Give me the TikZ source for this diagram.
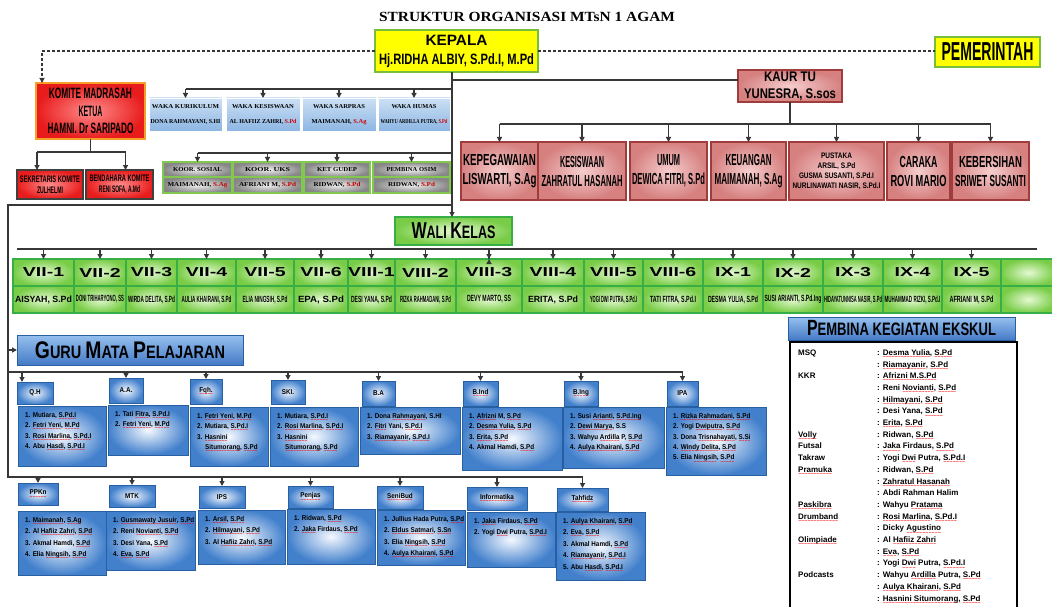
\documentclass[tikz,border=0pt]{standalone}
\usepackage{fontspec}
\setmainfont{Liberation Sans}
\newfontfamily\cndf[FakeStretch=0.6]{Liberation Sans}
\newfontfamily\twf[FakeStretch=0.9]{Liberation Sans}
\newfontfamily\widef[FakeStretch=1.5]{Liberation Sans}
\newfontfamily\serf{Liberation Serif}
\usetikzlibrary{arrows.meta}

\definecolor{yel}{RGB}{255,255,0}
\definecolor{ygreen}{RGB}{120,190,60}
\definecolor{kred}{RGB}{232,28,28}
\definecolor{kredl}{RGB}{255,140,140}
\definecolor{korange}{RGB}{245,160,40}
\definecolor{wblue}{RGB}{140,182,228}
\definecolor{wbluel}{RGB}{205,224,244}
\definecolor{gdark}{RGB}{135,135,135}
\definecolor{glight}{RGB}{240,240,240}
\definecolor{gborder}{RGB}{130,200,80}
\definecolor{tuin}{RGB}{246,205,205}
\definecolor{tuout}{RGB}{214,128,128}
\definecolor{tuborder}{RGB}{160,60,60}
\definecolor{grin}{RGB}{228,249,210}
\definecolor{grout}{RGB}{120,204,70}
\definecolor{grborder}{RGB}{55,175,70}
\definecolor{bin}{RGB}{245,249,255}
\definecolor{bout}{RGB}{66,128,204}
\definecolor{bborder}{RGB}{40,95,160}
\definecolor{hblue1}{RGB}{150,192,238}
\definecolor{hblue2}{RGB}{68,122,198}
\definecolor{lncol}{RGB}{55,55,55}

\newsavebox\sqbox
\newcommand\fw[2]{\resizebox{#1}{\height}{#2}}
\newcommand\sq[1]{\leavevmode\sbox\sqbox{#1}\rlap{\lower3.2pt\hbox to \wd\sqbox{\color{red}\xleaders\hbox{\fontsize{5}{5}\selectfont\textasciitilde}\hfill}}\usebox\sqbox}
\newcommand\rbox[7]{\node[#2, minimum width={(#5)-(#3)}, minimum height={(#6)-(#4)}] (#1) at ({((#3)+(#5))/2},{((#4)+(#6))/2}) {#7};}
\newcommand\ctx[3]{\node[#3, anchor=north west] (#1t) at ([shift={(7,6)}]#1.north west) {#2};}

\newcommand\fKep{\cndf\bfseries\fontsize{15}{19}\selectfont}
\newcommand\fPem{\cndf\bfseries\fontsize{26}{26}\selectfont}
\newcommand\fKom{\cndf\bfseries\fontsize{15}{17.5}\selectfont}
\newcommand\fKsub{\cndf\bfseries\fontsize{9.5}{11}\selectfont}
\newcommand\fWaka{\serf\bfseries\fontsize{6}{15}\selectfont}
\newcommand\fKoor{\serf\bfseries\fontsize{6}{7}\selectfont}
\newcommand\fKaur{\cndf\bfseries\fontsize{14}{17}\selectfont}
\newcommand\fStaff{\cndf\bfseries\fontsize{16}{19}\selectfont}
\newcommand\fPus{\cndf\bfseries\fontsize{8}{10}\selectfont}
\newcommand\fHead{\cndf\bfseries\fontsize{18}{18}\selectfont}
\newcommand\fCls{\widef\bfseries\fontsize{13}{13}\selectfont}
\newcommand\fClsn{\cndf\bfseries\fontsize{9}{9}\selectfont}
\newcommand\fLbl{\twf\bfseries\fontsize{7}{7.5}\selectfont}
\newcommand\fCa{\twf\bfseries\fontsize{7}{10.4}\selectfont}
\newcommand\fCb{\twf\bfseries\fontsize{7}{11.5}\selectfont}

\tikzset{
 bx/.style={inner sep=0pt, outer sep=0pt, align=center},
 yelbox/.style={bx, fill=yel, draw=ygreen, line width=1.2pt},
 kombox/.style={bx, inner color=kredl, outer color=kred, draw=korange, line width=1.8pt},
 komsub/.style={bx, inner color=kredl, outer color=kred, draw=black!75, line width=1.2pt},
 wakabox/.style={bx, top color=wbluel, bottom color=wblue, draw=white, line width=0.8pt},
 koorbox/.style={bx, inner color=glight, outer color=gdark, draw=gborder, line width=1.2pt},
 tubox/.style={bx, inner color=tuin, outer color=tuout, draw=tuborder, line width=1.2pt},
 grbox/.style={bx, inner color=grin, outer color=grout, draw=grborder, line width=1.2pt},
 blbox/.style={bx, inner color=bin, outer color=bout, draw=bborder, line width=0.9pt},
 hdbox/.style={bx, top color=hblue1, bottom color=hblue2, draw=bborder, line width=0.9pt},
 ekbox/.style={bx, fill=white, draw=black, line width=1.2pt},
 lbl/.style={font=\fLbl},
 ca/.style={inner sep=0pt, align=left, font=\fCa},
 cb/.style={inner sep=0pt, align=left, font=\fCb},
 ln/.style={draw=lncol, line width=1.3pt},
 arr/.style={ln, -{Triangle[length=5pt,width=5pt]}},
 dsh/.style={draw=lncol, line width=1.1pt, dash pattern=on 3pt off 2pt},
 darr/.style={dsh, -{Triangle[length=5pt,width=5pt]}},
}

\begin{document}
\begin{tikzpicture}[x=1pt,y=-1pt]
\useasboundingbox (0,0) rectangle (1052,607);
\fill[white] (0,0) rectangle (1052,607);

% title
\node[font=\serf\bfseries\fontsize{14}{14}\selectfont] (title) at (527,17) {\fw{296pt}{STRUKTUR ORGANISASI MTsN 1 AGAM}};

% top level
\rbox{kepala}{yelbox,font=\fKep}{375}{30}{538}{72}{\fw{62pt}{KEPALA}\\\fw{155pt}{Hj.RIDHA ALBIY, S.Pd.I, M.Pd}}
\rbox{pem}{yelbox,font=\fPem}{935}{37}{1040}{67}{\fw{92pt}{PEMERINTAH}}
\rbox{komite}{kombox,font=\fKom}{36}{83}{145}{139}{\fw{83pt}{KOMITE MADRASAH}\\\fw{24pt}{KETUA}\\\fw{86pt}{HAMNI. Dr SARIPADO}}
\rbox{sek}{komsub,font=\fKsub}{17}{170}{83}{199}{\fw{60pt}{SEKRETARIS KOMITE}\\\fw{26pt}{ZULHELMI}}
\rbox{ben}{komsub,font=\fKsub}{86}{170}{153}{199}{\fw{60pt}{BENDAHARA KOMITE}\\\fw{41pt}{RENI SOFA, A.Md}}

% waka
\rbox{w1}{wakabox,font=\fWaka}{149}{98}{222}{131}{\fw{67pt}{WAKA KURIKULUM}\\\fw{70pt}{DONA RAHMAYANI, S.HI}}
\rbox{w2}{wakabox,font=\fWaka}{226}{98}{300}{131}{\fw{62pt}{WAKA KESISWAAN}\\\fw{67pt}{AL HAFIIZ ZAHRI, \textcolor{red!80!black}{S.Pd}}}
\rbox{w3}{wakabox,font=\fWaka}{302}{98}{376}{131}{\fw{52pt}{WAKA SARPRAS}\\\fw{55pt}{MAIMANAH, \textcolor{red!80!black}{S.Ag}}}
\rbox{w4}{wakabox,font=\fWaka}{378}{98}{450}{131}{\fw{45pt}{WAKA HUMAS}\\\fw{67pt}{WAHYU ARDILLA PUTRA, \textcolor{red!80!black}{S.Pd}}}

% koor
\rbox{k1}{koorbox,font=\fKoor}{163}{162}{232}{177}{\fw{49pt}{KOOR. SOSIAL}}
\rbox{k1b}{koorbox,font=\fKoor}{163}{177}{232}{193}{\fw{60pt}{MAIMANAH, \textcolor{red!80!black}{S.Ag}}}
\rbox{k2}{koorbox,font=\fKoor}{233}{162}{302}{177}{\fw{45pt}{KOOR. UKS}}
\rbox{k2b}{koorbox,font=\fKoor}{233}{177}{302}{193}{\fw{57pt}{AFRIANI M, \textcolor{red!80!black}{S.Pd}}}
\rbox{k3}{koorbox,font=\fKoor}{304}{162}{370}{177}{\fw{40pt}{KET GUDEP}}
\rbox{k3b}{koorbox,font=\fKoor}{304}{177}{370}{193}{\fw{47pt}{RIDWAN, \textcolor{red!80!black}{S.Pd}}}
\rbox{k4}{koorbox,font=\fKoor}{373}{162}{450}{177}{\fw{50pt}{PEMBINA OSIM}}
\rbox{k4b}{koorbox,font=\fKoor}{373}{177}{450}{193}{\fw{47pt}{RIDWAN, \textcolor{red!80!black}{S.Pd}}}

% kaur tu and staff
\rbox{kaur}{tubox,font=\fKaur}{738}{70}{842}{102}{\fw{52pt}{KAUR TU}\\\fw{92pt}{YUNESRA, S.sos}}
\rbox{s1}{tubox,font=\fStaff}{461}{142}{538}{200}{\fw{73pt}{KEPEGAWAIAN}\\\fw{74pt}{LISWARTI, S.Ag}}
\rbox{s2}{tubox,font=\fStaff}{538}{142}{626}{200}{\fw{44pt}{KESISWAAN}\\\fw{81pt}{ZAHRATUL HASANAH}}
\rbox{s3}{tubox,font=\fStaff}{630}{142}{707}{200}{\fw{23pt}{UMUM}\\\fw{73pt}{DEWICA FITRI, S.Pd}}
\rbox{s4}{tubox,font=\fStaff}{711}{142}{786}{200}{\fw{46pt}{KEUANGAN}\\\fw{68pt}{MAIMANAH, S.Ag}}
\rbox{s5}{tubox,font=\fPus}{789}{142}{884}{200}{\fw{31pt}{PUSTAKA}\\\fw{38pt}{ARSIL, S.Pd}\\\fw{75pt}{GUSMA SUSANTI, S.Pd.I}\\\fw{88pt}{NURLINAWATI NASIR, S.Pd.I}}
\rbox{s6}{tubox,font=\fStaff}{887}{142}{950}{200}{\fw{38pt}{CARAKA}\\\fw{56pt}{ROVI MARIO}}
\rbox{s7}{tubox,font=\fStaff}{952}{142}{1029}{200}{\fw{63pt}{KEBERSIHAN}\\\fw{71pt}{SRIWET SUSANTI}}

% wali kelas
\rbox{wali}{grbox,font=\fHead}{395}{217}{512}{245}{\fw{84pt}{{\fontsize{23}{23}\selectfont W}ALI {\fontsize{23}{23}\selectfont K}ELAS}}
\coordinate (cl0) at (17,249);
\coordinate (cl9) at (1037,249);
\draw[ln] (cl0) -- (cl9);
\foreach \xa/\xb/\lab/\who/\ww [count=\i] in {
 13/74/VII-1/{AISYAH, S.Pd}/57,
 74/126/VII-2/{DONI TRIHARYONO, SS}/48,
 126/177/VII-3/{WIRDA DELITA, S.Pd}/47,
 177/236/VII-4/{AULIA KHAIRANI, S.Pd}/50,
 236/294/VII-5/{ELIA NINGSIH, S.Pd}/45,
 294/348/VII-6/{EPA, S.Pd}/46,
 348/395/VIII-1/{DESI YANA, S.Pd}/41,
 395/456/VIII-2/{RIZKA RAHMADANI, S.Pd}/51,
 456/522/VIII-3/{DEVY MARTO, SS}/44,
 522/584/VIII-4/{ERITA, S.Pd}/50,
 584/643/VIII-5/{YOGI DWI PUTRA, S.Pd.I}/47,
 643/703/VIII-6/{TATI FITRA, S.Pd.I}/46,
 703/763/IX-1/{DESMA YULIA, S.Pd}/50,
 763/823/IX-2/{SUSI ARIANTI, S.Pd.Ing}/57,
 823/883/IX-3/{HIDAYATUNNISA NASIR, S.Pd}/58,
 883/942/IX-4/{MUHAMMAD RIZKI, S.Pd.I}/56,
 942/1001/IX-5/{AFRIANI M, S.Pd}/44}{
 \rbox{cl\i}{grbox,font=\fCls}{\xa}{259}{\xb}{286}{\lab}
 \rbox{cn\i}{grbox,font=\fClsn}{\xa}{286}{\xb}{313}{\fw{\ww pt}{\who}}
 \draw[arr] (cl\i.north |- cl0) -- (cl\i.north);
}
\rbox{blk1}{grbox}{1001}{259}{1056}{286}{}
\rbox{blk2}{grbox}{1001}{286}{1056}{313}{}
\draw[arr] (cl9) -- (cl9 |- blk1.north);

% guru mata pelajaran
\rbox{guru}{hdbox,font=\fHead}{17}{335}{243}{365}{\fw{190pt}{{\fontsize{24}{24}\selectfont G}URU {\fontsize{24}{24}\selectfont M}ATA {\fontsize{24}{24}\selectfont P}ELAJARAN}}

% row 1
\rbox{qh}{blbox,lbl}{17}{382}{53}{404}{Q.H}
\rbox{aa}{blbox,lbl}{109}{378}{143}{403}{A.A.}
\rbox{fq}{blbox,lbl}{190}{379}{222}{404}{\sq{Fqh.}}
\rbox{ski}{blbox,lbl}{271}{380}{305}{404}{SKI.}
\rbox{ba}{blbox,lbl}{362}{381}{395}{406}{B.A}
\rbox{bind}{blbox,lbl}{463}{381}{498}{406}{\sq{B.Ind}}
\rbox{bing}{blbox,lbl}{564}{381}{598}{406}{\sq{B.Ing}}
\rbox{ipa}{blbox,lbl}{667}{381}{698}{406}{IPA}

\rbox{qhc}{blbox}{18}{406}{106}{466}{}
\rbox{aac}{blbox}{108}{405}{188}{455}{}
\rbox{fqc}{blbox}{190}{407}{268}{466}{}
\rbox{skic}{blbox}{270}{407}{358}{466}{}
\rbox{bac}{blbox}{360}{407}{460}{454}{}
\rbox{bindc}{blbox}{462}{407}{562}{470}{}
\rbox{bingc}{blbox}{563}{407}{664}{468}{}
\rbox{ipac}{blbox}{666}{407}{766}{475}{}

\ctx{qhc}{1. Mutiara, \sq{S.Pd.I}\\2. \sq{Fetri Yeni}, \sq{M.Pd}\\3. \sq{Rosi Marlina}, \sq{S.Pd.I}\\4. Abu \sq{Hasdi}, \sq{S.Pd.I}}{ca}
\ctx{aac}{1. Tati \sq{Fitra}, \sq{S.Pd.I}\\2. \sq{Fetri Yeni}, \sq{M.Pd}}{ca}
\ctx{fqc}{1. \sq{Fetri Yeni}, \sq{M.Pd}\\2. Mutiara, \sq{S.Pd.I}\\3. \sq{Hasnini}\\\hspace*{8pt}\sq{Situmorang}, \sq{S.Pd}}{ca}
\ctx{skic}{1. Mutiara, \sq{S.Pd.I}\\2. \sq{Rosi Marlina}, \sq{S.Pd.I}\\3. \sq{Hasnini}\\\hspace*{8pt}\sq{Situmorang}, \sq{S.Pd}}{ca}
\ctx{bac}{1. Dona \sq{Rahmayani}, S.HI\\2. \sq{Fitri} Yani, \sq{S.Pd.I}\\3. \sq{Riamayanir}, \sq{S.Pd.I}}{ca}
\ctx{bindc}{1. \sq{Afrizni} M, \sq{S.Pd}\\2. \sq{Desma Yulia}, \sq{S.Pd}\\3. \sq{Erita}, \sq{S.Pd}\\4. Akmal Hamdi, \sq{S.Pd}}{ca}
\ctx{bingc}{1. Susi \sq{Arianti}, \sq{S.Pd.Ing}\\2. \sq{Dewi Marya}, S.S\\3. Wahyu \sq{Ardilla} P, \sq{S.Pd}\\4. \sq{Aulya Khairani}, \sq{S.Pd}}{ca}
\ctx{ipac}{1. \sq{Rizka Rahmadani}, \sq{S.Pd}\\2. Yogi \sq{Dwiputra}, \sq{S.Pd}\\3. Dona \sq{Trisnahayati}, \sq{S.Si}\\4. \sq{Windy Delita}, \sq{S.Pd}\\5. Elia \sq{Ningsih}, \sq{S.Pd}}{ca}

% row 2
\rbox{ppkn}{blbox,lbl}{18}{483}{58}{505}{\sq{PPKn}}
\rbox{mtk}{blbox,lbl}{109}{485}{155}{507}{MTK}
\rbox{ips}{blbox,lbl}{199}{486}{245}{508}{IPS}
\rbox{pjs}{blbox,lbl}{288}{486}{333}{508}{\sq{Penjas}}
\rbox{sbd}{blbox,lbl}{377}{486}{423}{509}{\sq{SeniBud}}
\rbox{inf}{blbox,lbl}{467}{487}{527}{510}{\sq{Informatika}}
\rbox{tah}{blbox,lbl}{557}{488}{608}{511}{\sq{Tahfidz}}

\rbox{ppknc}{blbox}{18}{511}{106}{575}{}
\rbox{mtkc}{blbox}{106}{511}{195}{570}{}
\rbox{ipsc}{blbox}{198}{510}{285}{564}{}
\rbox{pjsc}{blbox}{287}{509}{375}{564}{}
\rbox{sbdc}{blbox}{377}{510}{465}{565}{}
\rbox{infc}{blbox}{467}{512}{555}{567}{}
\rbox{tahc}{blbox}{556}{512}{645}{580}{}

\ctx{ppknc}{1. \sq{Maimanah}, \sq{S.Ag}\\2. Al \sq{Hafiiz Zahri}, \sq{S.Pd}\\3. Akmal Hamdi, \sq{S.Pd}\\4. Elia \sq{Ningsih}, \sq{S.Pd}}{cb}
\ctx{mtkc}{1. \sq{Gusmawaty Jusuir}, \sq{S.Pd}\\2. Reni \sq{Novianti}, \sq{S.Pd}\\3. Desi Yana, \sq{S.Pd}\\4. \sq{Eva}, \sq{S.Pd}}{cb}
\ctx{ipsc}{1. \sq{Arsil}, \sq{S.Pd}\\2. \sq{Hilmayani}, \sq{S.Pd}\\3. Al \sq{Hafiiz Zahri}, \sq{S.Pd}}{cb}
\ctx{pjsc}{1. Ridwan, \sq{S.Pd}\\2. \sq{Jaka} Firdaus, \sq{S.Pd}}{cb}
\ctx{sbdc}{1. Jullius Hada Putra, \sq{S.Pd}\\2. \sq{Eldus Satmari}, \sq{S.Sn}\\3. Elia \sq{Ningsih}, \sq{S.Pd}\\4. \sq{Aulya Khairani}, \sq{S.Pd}}{cb}
\ctx{infc}{1. \sq{Jaka} Firdaus, \sq{S.Pd}\\2. Yogi \sq{Dwi} Putra, \sq{S.Pd.I}}{cb}
\ctx{tahc}{1. \sq{Aulya Khairani}, \sq{S.Pd}\\2. \sq{Eva}, \sq{S.Pd}\\3. Akmal Hamdi, \sq{S.Pd}\\4. \sq{Riamayanir}, \sq{S.Pd.I}\\5. Abu \sq{Hasdi}, \sq{S.Pd.I}}{cb}

% pembina ekskul
\rbox{pemb}{hdbox,font=\fHead}{788}{317}{1015}{340}{\fw{189pt}{{\fontsize{22}{22}\selectfont P}EMBINA KEGIATAN EKSKUL}}
\rbox{ek}{ekbox}{790}{342}{1017}{612}{}
\node[anchor=north west, inner sep=0pt, font=\bfseries\fontsize{8}{11.7}\selectfont] (ekt) at ([shift={(8,5)}]ek.north west) {%
\begin{tabular}{@{}l@{}}
\makebox[79pt][l]{MSQ}: \sq{Desma Yulia}, \sq{S.Pd}\\
\makebox[79pt][l]{}: \sq{Riamayanir}, \sq{S.Pd}\\
\makebox[79pt][l]{KKR}: \sq{Afrizni M.S.Pd}\\
\makebox[79pt][l]{}: Reni \sq{Novianti}, \sq{S.Pd}\\
\makebox[79pt][l]{}: \sq{Hilmayani}, \sq{S.Pd}\\
\makebox[79pt][l]{}: Desi Yana, \sq{S.Pd}\\
\makebox[79pt][l]{}: \sq{Erita}, \sq{S.Pd}\\
\makebox[79pt][l]{\sq{Volly}}: Ridwan, \sq{S.Pd}\\
\makebox[79pt][l]{Futsal}: \sq{Jaka} Firdaus, \sq{S.Pd}\\
\makebox[79pt][l]{Takraw}: Yogi \sq{Dwi} Putra, \sq{S.Pd.I}\\
\makebox[79pt][l]{\sq{Pramuka}}: Ridwan, \sq{S.Pd}\\
\makebox[79pt][l]{}: \sq{Zahratul Hasanah}\\
\makebox[79pt][l]{}: Abdi Rahman Halim\\
\makebox[79pt][l]{\sq{Paskibra}}: Wahyu \sq{Pratama}\\
\makebox[79pt][l]{\sq{Drumband}}: \sq{Rosi Marlina}, \sq{S.Pd.I}\\
\makebox[79pt][l]{}: Dicky \sq{Agustino}\\
\makebox[79pt][l]{\sq{Olimpiade}}: Al \sq{Hafiiz Zahri}\\
\makebox[79pt][l]{}: \sq{Eva}, \sq{S.Pd}\\
\makebox[79pt][l]{}: Yogi \sq{Dwi} Putra, \sq{S.Pd.I}\\
\makebox[79pt][l]{Podcasts}: Wahyu \sq{Ardilla} Putra, \sq{S.Pd}\\
\makebox[79pt][l]{}: \sq{Aulya Khairani}, \sq{S.Pd}\\
\makebox[79pt][l]{}: \sq{Hasnini Situmorang}, \sq{S.Pd}
\end{tabular}};

% ---------- connectors ----------
\coordinate (tk) at (452,0);
\draw[darr] (kepala.west) -| ([xshift=6pt]komite.north west);
\draw[dsh] (kepala.east) -- (kepala.east -| pem.west);
\draw[arr] (kepala.south -| tk) -- (wali.north -| tk);
% kaur
\path ([yshift=6pt]kaur.west) coordinate (kw);
\draw[ln] (kw -| tk) -- (kw);
\coordinate (sl) at (0,124);
\draw[ln] (kaur.south) -- (kaur.south |- sl);
\draw[ln] (s1.north |- sl) -- (s7.north |- sl);
\foreach \s in {s1,s2,s3,s4,s5,s6,s7} {\draw[arr] (\s.north |- sl) -- (\s.north);}
% komite subs
\coordinate (ksl) at (0,152);
\path ([xshift=-13pt]sek.north) coordinate (sa);
\path ([xshift=6pt]ben.north) coordinate (bea);
\draw[ln] (komite.south) -- (komite.south |- ksl);
\draw[ln] (sa |- ksl) -- (bea |- ksl);
\draw[arr] (sa |- ksl) -- (sa);
\draw[arr] (bea |- ksl) -- (bea);
% waka
\coordinate (wl) at (0,89);
\draw[ln] (w1.north |- wl) -- (tk |- wl);
\foreach \s in {w1,w2,w3,w4} {\draw[arr] (\s.north |- wl) -- (\s.north);}
% koor
\coordinate (kl) at (0,153);
\draw[ln] (k1.north |- kl) -- (tk |- kl);
\foreach \s in {k1,k2,k3,k4} {\draw[arr] (\s.north |- kl) -- (\s.north);}
% left trunk
\coordinate (lft) at (8,205);
\coordinate (lbot) at (8,477);
\draw[ln] (tk |- lft) -- (lft) -- (lbot) -- (lbot -| tah.north);
\coordinate (ga) at (8,350);
\draw[arr] (ga) -- (ga -| guru.west);
\coordinate (r1) at (8,372);
\draw[ln] (r1) -- (r1 -| ipa.north);
\path ([xshift=-13pt]qh.north) coordinate (qa);
\draw[arr] (qa |- r1) -- (qa);
\foreach \s in {aa,fq,ski,ba,bind,bing,ipa} {\draw[arr] (\s.north |- r1) -- (\s.north);}
\foreach \s in {ppkn,mtk,ips,pjs,sbd,inf,tah} {\draw[arr] (\s.north |- lbot) -- (\s.north);}
\end{tikzpicture}
\end{document}
